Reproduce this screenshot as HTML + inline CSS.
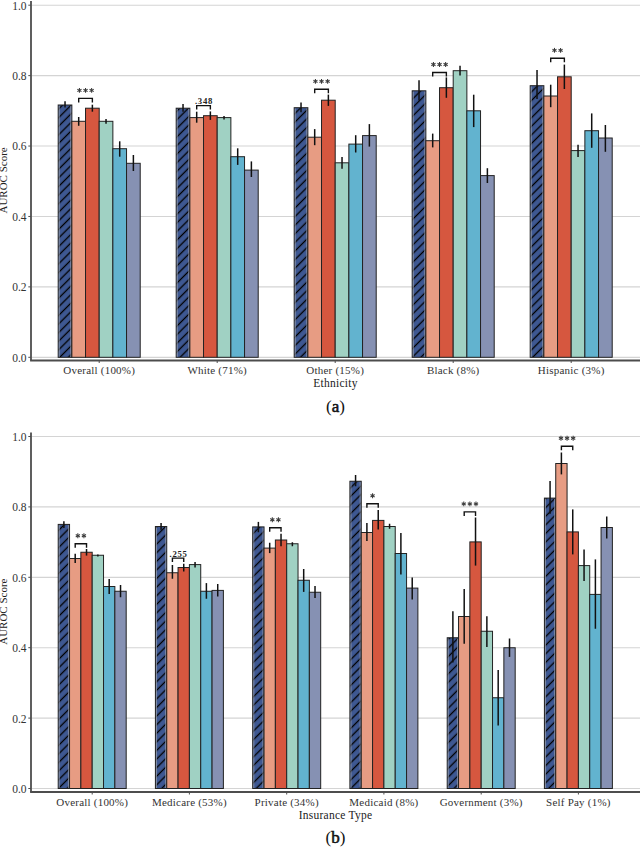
<!DOCTYPE html>
<html><head><meta charset="utf-8"><style>
html,body{margin:0;padding:0;background:#fff;}
body{width:640px;height:847px;overflow:hidden;}
svg{display:block;font-family:"Liberation Serif",serif;}
.tick{font-size:11.5px;fill:#333333;}
.xl{font-size:11px;fill:#333333;letter-spacing:0.22px;}
.yt{font-size:11px;fill:#222;}
.xt{font-size:11.5px;fill:#222;letter-spacing:0.25px;}
.tag{font-size:17px;fill:#111;}
.pv{font-size:8.7px;fill:#222;font-weight:bold;letter-spacing:0.75px;}
</style></head><body>
<svg width="640" height="847" viewBox="0 0 640 847">
<defs><pattern id="hatch0" patternUnits="userSpaceOnUse" width="20" height="6.08" patternTransform="rotate(-45)">
<rect width="20" height="6.08" fill="#3E5892"/><line x1="-1" y1="3.04" x2="21" y2="3.04" stroke="#000" stroke-width="1.3"/></pattern><pattern id="hatch1" patternUnits="userSpaceOnUse" width="20" height="6.08" patternTransform="rotate(-45)">
<rect width="20" height="6.08" fill="#3E5892"/><line x1="-1" y1="3.04" x2="21" y2="3.04" stroke="#000" stroke-width="1.3"/></pattern></defs>
<line x1="32" y1="357.30" x2="640" y2="357.30" stroke="#D4D4D4" stroke-width="1.15"/>
<text x="26.5" y="361.70" text-anchor="end" class="tick">0.0</text>
<line x1="28.3" y1="357.30" x2="31" y2="357.30" stroke="#4D4D4D" stroke-width="1"/>
<line x1="32" y1="286.88" x2="640" y2="286.88" stroke="#D4D4D4" stroke-width="1.15"/>
<text x="26.5" y="291.28" text-anchor="end" class="tick">0.2</text>
<line x1="28.3" y1="286.88" x2="31" y2="286.88" stroke="#4D4D4D" stroke-width="1"/>
<line x1="32" y1="216.46" x2="640" y2="216.46" stroke="#D4D4D4" stroke-width="1.15"/>
<text x="26.5" y="220.86" text-anchor="end" class="tick">0.4</text>
<line x1="28.3" y1="216.46" x2="31" y2="216.46" stroke="#4D4D4D" stroke-width="1"/>
<line x1="32" y1="146.04" x2="640" y2="146.04" stroke="#D4D4D4" stroke-width="1.15"/>
<text x="26.5" y="150.44" text-anchor="end" class="tick">0.6</text>
<line x1="28.3" y1="146.04" x2="31" y2="146.04" stroke="#4D4D4D" stroke-width="1"/>
<line x1="32" y1="75.62" x2="640" y2="75.62" stroke="#D4D4D4" stroke-width="1.15"/>
<text x="26.5" y="80.02" text-anchor="end" class="tick">0.8</text>
<line x1="28.3" y1="75.62" x2="31" y2="75.62" stroke="#4D4D4D" stroke-width="1"/>
<line x1="32" y1="5.20" x2="640" y2="5.20" stroke="#D4D4D4" stroke-width="1.15"/>
<text x="26.5" y="9.60" text-anchor="end" class="tick">1.0</text>
<line x1="28.3" y1="5.20" x2="31" y2="5.20" stroke="#4D4D4D" stroke-width="1"/>
<rect x="58.19" y="105.00" width="13.67" height="252.30" fill="url(#hatch0)" stroke="#222" stroke-width="1"/>
<line x1="59.29" y1="105.80" x2="59.29" y2="356.80" stroke="#9098A8" stroke-width="0.8"/>
<line x1="70.76" y1="105.80" x2="70.76" y2="356.80" stroke="#9098A8" stroke-width="0.8"/>
<rect x="71.86" y="121.30" width="13.67" height="236.00" fill="#E79C83" stroke="#222" stroke-width="1"/>
<rect x="85.53" y="108.20" width="13.67" height="249.10" fill="#D6573F" stroke="#222" stroke-width="1"/>
<rect x="99.20" y="121.30" width="13.67" height="236.00" fill="#A0D1C3" stroke="#222" stroke-width="1"/>
<rect x="112.87" y="148.70" width="13.67" height="208.60" fill="#62B3CF" stroke="#222" stroke-width="1"/>
<rect x="126.54" y="163.30" width="13.67" height="194.00" fill="#8691B3" stroke="#222" stroke-width="1"/>
<line x1="65.03" y1="101.20" x2="65.03" y2="107.50" stroke="#111" stroke-width="1.5"/>
<line x1="78.70" y1="117.00" x2="78.70" y2="125.80" stroke="#111" stroke-width="1.5"/>
<line x1="92.37" y1="104.70" x2="92.37" y2="111.70" stroke="#111" stroke-width="1.5"/>
<line x1="106.03" y1="119.00" x2="106.03" y2="123.70" stroke="#111" stroke-width="1.5"/>
<line x1="119.71" y1="141.30" x2="119.71" y2="156.70" stroke="#111" stroke-width="1.5"/>
<line x1="133.38" y1="155.00" x2="133.38" y2="171.00" stroke="#111" stroke-width="1.5"/>
<path d="M78.70,102.40 V98.40 H92.37 V102.40" fill="none" stroke="#111" stroke-width="1.4"/>
<g stroke="#3a3a3a" stroke-width="1.05">
<line x1="79.43" y1="88.00" x2="79.43" y2="92.80"/><line x1="81.51" y1="89.20" x2="77.35" y2="91.60"/><line x1="81.51" y1="91.60" x2="77.35" y2="89.20"/>
<line x1="85.53" y1="88.00" x2="85.53" y2="92.80"/><line x1="87.61" y1="89.20" x2="83.45" y2="91.60"/><line x1="87.61" y1="91.60" x2="83.45" y2="89.20"/>
<line x1="91.63" y1="88.00" x2="91.63" y2="92.80"/><line x1="93.71" y1="89.20" x2="89.55" y2="91.60"/><line x1="93.71" y1="91.60" x2="89.55" y2="89.20"/>
</g>
<line x1="99.20" y1="360.50" x2="99.20" y2="363.00" stroke="#4D4D4D" stroke-width="1"/>
<text x="99.20" y="374.00" text-anchor="middle" class="xl">Overall (100%)</text>
<rect x="176.19" y="108.20" width="13.67" height="249.10" fill="url(#hatch0)" stroke="#222" stroke-width="1"/>
<line x1="177.29" y1="109.00" x2="177.29" y2="356.80" stroke="#9098A8" stroke-width="0.8"/>
<line x1="188.76" y1="109.00" x2="188.76" y2="356.80" stroke="#9098A8" stroke-width="0.8"/>
<rect x="189.86" y="117.60" width="13.67" height="239.70" fill="#E79C83" stroke="#222" stroke-width="1"/>
<rect x="203.53" y="115.70" width="13.67" height="241.60" fill="#D6573F" stroke="#222" stroke-width="1"/>
<rect x="217.20" y="117.60" width="13.67" height="239.70" fill="#A0D1C3" stroke="#222" stroke-width="1"/>
<rect x="230.87" y="156.70" width="13.67" height="200.60" fill="#62B3CF" stroke="#222" stroke-width="1"/>
<rect x="244.54" y="170.10" width="13.67" height="187.20" fill="#8691B3" stroke="#222" stroke-width="1"/>
<line x1="183.03" y1="104.00" x2="183.03" y2="111.70" stroke="#111" stroke-width="1.5"/>
<line x1="196.69" y1="111.70" x2="196.69" y2="122.70" stroke="#111" stroke-width="1.5"/>
<line x1="210.37" y1="111.40" x2="210.37" y2="119.90" stroke="#111" stroke-width="1.5"/>
<line x1="224.03" y1="116.00" x2="224.03" y2="119.50" stroke="#111" stroke-width="1.5"/>
<line x1="237.70" y1="148.30" x2="237.70" y2="164.90" stroke="#111" stroke-width="1.5"/>
<line x1="251.38" y1="161.40" x2="251.38" y2="177.00" stroke="#111" stroke-width="1.5"/>
<path d="M196.69,109.60 V105.60 H210.37 V109.60" fill="none" stroke="#111" stroke-width="1.4"/>
<text x="204.03" y="104.10" text-anchor="middle" class="pv">.348</text>
<line x1="217.20" y1="360.50" x2="217.20" y2="363.00" stroke="#4D4D4D" stroke-width="1"/>
<text x="217.20" y="374.00" text-anchor="middle" class="xl">White (71%)</text>
<rect x="294.19" y="107.70" width="13.67" height="249.60" fill="url(#hatch0)" stroke="#222" stroke-width="1"/>
<line x1="295.29" y1="108.50" x2="295.29" y2="356.80" stroke="#9098A8" stroke-width="0.8"/>
<line x1="306.76" y1="108.50" x2="306.76" y2="356.80" stroke="#9098A8" stroke-width="0.8"/>
<rect x="307.86" y="137.20" width="13.67" height="220.10" fill="#E79C83" stroke="#222" stroke-width="1"/>
<rect x="321.53" y="100.20" width="13.67" height="257.10" fill="#D6573F" stroke="#222" stroke-width="1"/>
<rect x="335.20" y="162.80" width="13.67" height="194.50" fill="#A0D1C3" stroke="#222" stroke-width="1"/>
<rect x="348.87" y="144.10" width="13.67" height="213.20" fill="#62B3CF" stroke="#222" stroke-width="1"/>
<rect x="362.54" y="135.60" width="13.67" height="221.70" fill="#8691B3" stroke="#222" stroke-width="1"/>
<line x1="301.02" y1="102.60" x2="301.02" y2="112.20" stroke="#111" stroke-width="1.5"/>
<line x1="314.69" y1="129.10" x2="314.69" y2="145.20" stroke="#111" stroke-width="1.5"/>
<line x1="328.37" y1="94.60" x2="328.37" y2="105.90" stroke="#111" stroke-width="1.5"/>
<line x1="342.03" y1="157.00" x2="342.03" y2="168.70" stroke="#111" stroke-width="1.5"/>
<line x1="355.70" y1="135.20" x2="355.70" y2="152.50" stroke="#111" stroke-width="1.5"/>
<line x1="369.38" y1="124.10" x2="369.38" y2="146.60" stroke="#111" stroke-width="1.5"/>
<path d="M314.69,93.30 V89.30 H328.37 V93.30" fill="none" stroke="#111" stroke-width="1.4"/>
<g stroke="#3a3a3a" stroke-width="1.05">
<line x1="315.43" y1="78.90" x2="315.43" y2="83.70"/><line x1="317.51" y1="80.10" x2="313.35" y2="82.50"/><line x1="317.51" y1="82.50" x2="313.35" y2="80.10"/>
<line x1="321.53" y1="78.90" x2="321.53" y2="83.70"/><line x1="323.61" y1="80.10" x2="319.45" y2="82.50"/><line x1="323.61" y1="82.50" x2="319.45" y2="80.10"/>
<line x1="327.63" y1="78.90" x2="327.63" y2="83.70"/><line x1="329.71" y1="80.10" x2="325.55" y2="82.50"/><line x1="329.71" y1="82.50" x2="325.55" y2="80.10"/>
</g>
<line x1="335.20" y1="360.50" x2="335.20" y2="363.00" stroke="#4D4D4D" stroke-width="1"/>
<text x="335.20" y="374.00" text-anchor="middle" class="xl">Other (15%)</text>
<rect x="412.19" y="90.80" width="13.67" height="266.50" fill="url(#hatch0)" stroke="#222" stroke-width="1"/>
<line x1="413.29" y1="91.60" x2="413.29" y2="356.80" stroke="#9098A8" stroke-width="0.8"/>
<line x1="424.76" y1="91.60" x2="424.76" y2="356.80" stroke="#9098A8" stroke-width="0.8"/>
<rect x="425.86" y="140.70" width="13.67" height="216.60" fill="#E79C83" stroke="#222" stroke-width="1"/>
<rect x="439.53" y="87.70" width="13.67" height="269.60" fill="#D6573F" stroke="#222" stroke-width="1"/>
<rect x="453.20" y="70.70" width="13.67" height="286.60" fill="#A0D1C3" stroke="#222" stroke-width="1"/>
<rect x="466.87" y="110.80" width="13.67" height="246.50" fill="#62B3CF" stroke="#222" stroke-width="1"/>
<rect x="480.54" y="175.60" width="13.67" height="181.70" fill="#8691B3" stroke="#222" stroke-width="1"/>
<line x1="419.02" y1="80.20" x2="419.02" y2="100.60" stroke="#111" stroke-width="1.5"/>
<line x1="432.69" y1="133.60" x2="432.69" y2="147.40" stroke="#111" stroke-width="1.5"/>
<line x1="446.37" y1="77.40" x2="446.37" y2="97.80" stroke="#111" stroke-width="1.5"/>
<line x1="460.03" y1="65.80" x2="460.03" y2="75.60" stroke="#111" stroke-width="1.5"/>
<line x1="473.70" y1="94.70" x2="473.70" y2="127.10" stroke="#111" stroke-width="1.5"/>
<line x1="487.38" y1="168.20" x2="487.38" y2="183.00" stroke="#111" stroke-width="1.5"/>
<path d="M432.69,76.50 V72.50 H446.37 V76.50" fill="none" stroke="#111" stroke-width="1.4"/>
<g stroke="#3a3a3a" stroke-width="1.05">
<line x1="433.43" y1="62.10" x2="433.43" y2="66.90"/><line x1="435.51" y1="63.30" x2="431.35" y2="65.70"/><line x1="435.51" y1="65.70" x2="431.35" y2="63.30"/>
<line x1="439.53" y1="62.10" x2="439.53" y2="66.90"/><line x1="441.61" y1="63.30" x2="437.45" y2="65.70"/><line x1="441.61" y1="65.70" x2="437.45" y2="63.30"/>
<line x1="445.63" y1="62.10" x2="445.63" y2="66.90"/><line x1="447.71" y1="63.30" x2="443.55" y2="65.70"/><line x1="447.71" y1="65.70" x2="443.55" y2="63.30"/>
</g>
<line x1="453.20" y1="360.50" x2="453.20" y2="363.00" stroke="#4D4D4D" stroke-width="1"/>
<text x="453.20" y="374.00" text-anchor="middle" class="xl">Black (8%)</text>
<rect x="530.19" y="85.70" width="13.67" height="271.60" fill="url(#hatch0)" stroke="#222" stroke-width="1"/>
<line x1="531.29" y1="86.50" x2="531.29" y2="356.80" stroke="#9098A8" stroke-width="0.8"/>
<line x1="542.76" y1="86.50" x2="542.76" y2="356.80" stroke="#9098A8" stroke-width="0.8"/>
<rect x="543.86" y="96.00" width="13.67" height="261.30" fill="#E79C83" stroke="#222" stroke-width="1"/>
<rect x="557.53" y="76.80" width="13.67" height="280.50" fill="#D6573F" stroke="#222" stroke-width="1"/>
<rect x="571.20" y="150.60" width="13.67" height="206.70" fill="#A0D1C3" stroke="#222" stroke-width="1"/>
<rect x="584.87" y="130.70" width="13.67" height="226.60" fill="#62B3CF" stroke="#222" stroke-width="1"/>
<rect x="598.54" y="138.00" width="13.67" height="219.30" fill="#8691B3" stroke="#222" stroke-width="1"/>
<line x1="537.03" y1="70.00" x2="537.03" y2="99.10" stroke="#111" stroke-width="1.5"/>
<line x1="550.70" y1="84.70" x2="550.70" y2="107.20" stroke="#111" stroke-width="1.5"/>
<line x1="564.37" y1="64.60" x2="564.37" y2="89.00" stroke="#111" stroke-width="1.5"/>
<line x1="578.04" y1="144.70" x2="578.04" y2="157.00" stroke="#111" stroke-width="1.5"/>
<line x1="591.71" y1="113.40" x2="591.71" y2="147.80" stroke="#111" stroke-width="1.5"/>
<line x1="605.38" y1="125.00" x2="605.38" y2="151.80" stroke="#111" stroke-width="1.5"/>
<path d="M550.70,62.30 V58.30 H564.37 V62.30" fill="none" stroke="#111" stroke-width="1.4"/>
<g stroke="#3a3a3a" stroke-width="1.05">
<line x1="554.48" y1="47.90" x2="554.48" y2="52.70"/><line x1="556.56" y1="49.10" x2="552.40" y2="51.50"/><line x1="556.56" y1="51.50" x2="552.40" y2="49.10"/>
<line x1="560.58" y1="47.90" x2="560.58" y2="52.70"/><line x1="562.66" y1="49.10" x2="558.50" y2="51.50"/><line x1="562.66" y1="51.50" x2="558.50" y2="49.10"/>
</g>
<line x1="571.20" y1="360.50" x2="571.20" y2="363.00" stroke="#4D4D4D" stroke-width="1"/>
<text x="571.20" y="374.00" text-anchor="middle" class="xl">Hispanic (3%)</text>
<line x1="31" y1="1.00" x2="31" y2="360.50" stroke="#4D4D4D" stroke-width="1.8"/>
<line x1="30.1" y1="360.50" x2="640" y2="360.50" stroke="#4D4D4D" stroke-width="1.8"/>
<text transform="translate(7.4,180.40) rotate(-90)" text-anchor="middle" class="yt">AUROC Score</text>
<text x="335.5" y="387.20" text-anchor="middle" class="xt">Ethnicity</text>
<text x="335.5" y="411.50" text-anchor="middle" class="tag">(<tspan style='stroke:#111;stroke-width:0.55px'>a</tspan>)</text>
<line x1="32" y1="788.50" x2="640" y2="788.50" stroke="#D4D4D4" stroke-width="1.15"/>
<text x="26.5" y="792.90" text-anchor="end" class="tick">0.0</text>
<line x1="28.3" y1="788.50" x2="31" y2="788.50" stroke="#4D4D4D" stroke-width="1"/>
<line x1="32" y1="718.10" x2="640" y2="718.10" stroke="#D4D4D4" stroke-width="1.15"/>
<text x="26.5" y="722.50" text-anchor="end" class="tick">0.2</text>
<line x1="28.3" y1="718.10" x2="31" y2="718.10" stroke="#4D4D4D" stroke-width="1"/>
<line x1="32" y1="647.70" x2="640" y2="647.70" stroke="#D4D4D4" stroke-width="1.15"/>
<text x="26.5" y="652.10" text-anchor="end" class="tick">0.4</text>
<line x1="28.3" y1="647.70" x2="31" y2="647.70" stroke="#4D4D4D" stroke-width="1"/>
<line x1="32" y1="577.30" x2="640" y2="577.30" stroke="#D4D4D4" stroke-width="1.15"/>
<text x="26.5" y="581.70" text-anchor="end" class="tick">0.6</text>
<line x1="28.3" y1="577.30" x2="31" y2="577.30" stroke="#4D4D4D" stroke-width="1"/>
<line x1="32" y1="506.90" x2="640" y2="506.90" stroke="#D4D4D4" stroke-width="1.15"/>
<text x="26.5" y="511.30" text-anchor="end" class="tick">0.8</text>
<line x1="28.3" y1="506.90" x2="31" y2="506.90" stroke="#4D4D4D" stroke-width="1"/>
<line x1="32" y1="436.50" x2="640" y2="436.50" stroke="#D4D4D4" stroke-width="1.15"/>
<text x="26.5" y="440.90" text-anchor="end" class="tick">1.0</text>
<line x1="28.3" y1="436.50" x2="31" y2="436.50" stroke="#4D4D4D" stroke-width="1"/>
<rect x="58.21" y="524.40" width="11.33" height="264.10" fill="url(#hatch1)" stroke="#222" stroke-width="1"/>
<line x1="59.31" y1="525.20" x2="59.31" y2="788.00" stroke="#9098A8" stroke-width="0.8"/>
<line x1="68.44" y1="525.20" x2="68.44" y2="788.00" stroke="#9098A8" stroke-width="0.8"/>
<rect x="69.54" y="558.50" width="11.33" height="230.00" fill="#E79C83" stroke="#222" stroke-width="1"/>
<rect x="80.87" y="552.25" width="11.33" height="236.25" fill="#D6573F" stroke="#222" stroke-width="1"/>
<rect x="92.20" y="555.25" width="11.33" height="233.25" fill="#A0D1C3" stroke="#222" stroke-width="1"/>
<rect x="103.53" y="586.50" width="11.33" height="202.00" fill="#62B3CF" stroke="#222" stroke-width="1"/>
<rect x="114.86" y="591.25" width="11.33" height="197.25" fill="#8691B3" stroke="#222" stroke-width="1"/>
<line x1="63.88" y1="521.25" x2="63.88" y2="528.10" stroke="#111" stroke-width="1.5"/>
<line x1="75.20" y1="553.75" x2="75.20" y2="563.10" stroke="#111" stroke-width="1.5"/>
<line x1="86.53" y1="549.00" x2="86.53" y2="555.60" stroke="#111" stroke-width="1.5"/>
<line x1="97.87" y1="554.40" x2="97.87" y2="556.50" stroke="#111" stroke-width="1.5"/>
<line x1="109.19" y1="579.00" x2="109.19" y2="594.00" stroke="#111" stroke-width="1.5"/>
<line x1="120.53" y1="585.00" x2="120.53" y2="597.25" stroke="#111" stroke-width="1.5"/>
<path d="M75.20,547.75 V543.75 H86.53 V547.75" fill="none" stroke="#111" stroke-width="1.4"/>
<g stroke="#3a3a3a" stroke-width="1.05">
<line x1="77.82" y1="533.35" x2="77.82" y2="538.15"/><line x1="79.90" y1="534.55" x2="75.74" y2="536.95"/><line x1="79.90" y1="536.95" x2="75.74" y2="534.55"/>
<line x1="83.92" y1="533.35" x2="83.92" y2="538.15"/><line x1="86.00" y1="534.55" x2="81.84" y2="536.95"/><line x1="86.00" y1="536.95" x2="81.84" y2="534.55"/>
</g>
<line x1="92.20" y1="792.00" x2="92.20" y2="794.50" stroke="#4D4D4D" stroke-width="1"/>
<text x="92.20" y="805.50" text-anchor="middle" class="xl">Overall (100%)</text>
<rect x="155.41" y="526.50" width="11.33" height="262.00" fill="url(#hatch1)" stroke="#222" stroke-width="1"/>
<line x1="156.51" y1="527.30" x2="156.51" y2="788.00" stroke="#9098A8" stroke-width="0.8"/>
<line x1="165.64" y1="527.30" x2="165.64" y2="788.00" stroke="#9098A8" stroke-width="0.8"/>
<rect x="166.74" y="572.75" width="11.33" height="215.75" fill="#E79C83" stroke="#222" stroke-width="1"/>
<rect x="178.07" y="567.50" width="11.33" height="221.00" fill="#D6573F" stroke="#222" stroke-width="1"/>
<rect x="189.40" y="564.60" width="11.33" height="223.90" fill="#A0D1C3" stroke="#222" stroke-width="1"/>
<rect x="200.73" y="591.25" width="11.33" height="197.25" fill="#62B3CF" stroke="#222" stroke-width="1"/>
<rect x="212.06" y="590.40" width="11.33" height="198.10" fill="#8691B3" stroke="#222" stroke-width="1"/>
<line x1="161.07" y1="523.10" x2="161.07" y2="529.75" stroke="#111" stroke-width="1.5"/>
<line x1="172.41" y1="565.00" x2="172.41" y2="578.75" stroke="#111" stroke-width="1.5"/>
<line x1="183.73" y1="563.75" x2="183.73" y2="571.50" stroke="#111" stroke-width="1.5"/>
<line x1="195.06" y1="561.90" x2="195.06" y2="567.50" stroke="#111" stroke-width="1.5"/>
<line x1="206.39" y1="583.10" x2="206.39" y2="598.75" stroke="#111" stroke-width="1.5"/>
<line x1="217.72" y1="584.00" x2="217.72" y2="596.50" stroke="#111" stroke-width="1.5"/>
<path d="M172.41,562.10 V558.10 H183.73 V562.10" fill="none" stroke="#111" stroke-width="1.4"/>
<text x="178.57" y="556.60" text-anchor="middle" class="pv">.255</text>
<line x1="189.40" y1="792.00" x2="189.40" y2="794.50" stroke="#4D4D4D" stroke-width="1"/>
<text x="189.40" y="805.50" text-anchor="middle" class="xl">Medicare (53%)</text>
<rect x="252.71" y="526.90" width="11.33" height="261.60" fill="url(#hatch1)" stroke="#222" stroke-width="1"/>
<line x1="253.81" y1="527.70" x2="253.81" y2="788.00" stroke="#9098A8" stroke-width="0.8"/>
<line x1="262.94" y1="527.70" x2="262.94" y2="788.00" stroke="#9098A8" stroke-width="0.8"/>
<rect x="264.04" y="548.10" width="11.33" height="240.40" fill="#E79C83" stroke="#222" stroke-width="1"/>
<rect x="275.37" y="540.00" width="11.33" height="248.50" fill="#D6573F" stroke="#222" stroke-width="1"/>
<rect x="286.70" y="543.75" width="11.33" height="244.75" fill="#A0D1C3" stroke="#222" stroke-width="1"/>
<rect x="298.03" y="580.25" width="11.33" height="208.25" fill="#62B3CF" stroke="#222" stroke-width="1"/>
<rect x="309.36" y="592.25" width="11.33" height="196.25" fill="#8691B3" stroke="#222" stroke-width="1"/>
<line x1="258.38" y1="521.90" x2="258.38" y2="532.25" stroke="#111" stroke-width="1.5"/>
<line x1="269.70" y1="542.75" x2="269.70" y2="553.10" stroke="#111" stroke-width="1.5"/>
<line x1="281.03" y1="533.75" x2="281.03" y2="546.25" stroke="#111" stroke-width="1.5"/>
<line x1="292.37" y1="542.25" x2="292.37" y2="546.25" stroke="#111" stroke-width="1.5"/>
<line x1="303.69" y1="569.00" x2="303.69" y2="591.90" stroke="#111" stroke-width="1.5"/>
<line x1="315.02" y1="586.00" x2="315.02" y2="598.10" stroke="#111" stroke-width="1.5"/>
<path d="M269.70,531.75 V527.75 H281.03 V531.75" fill="none" stroke="#111" stroke-width="1.4"/>
<g stroke="#3a3a3a" stroke-width="1.05">
<line x1="272.32" y1="517.35" x2="272.32" y2="522.15"/><line x1="274.40" y1="518.55" x2="270.24" y2="520.95"/><line x1="274.40" y1="520.95" x2="270.24" y2="518.55"/>
<line x1="278.42" y1="517.35" x2="278.42" y2="522.15"/><line x1="280.50" y1="518.55" x2="276.34" y2="520.95"/><line x1="280.50" y1="520.95" x2="276.34" y2="518.55"/>
</g>
<line x1="286.70" y1="792.00" x2="286.70" y2="794.50" stroke="#4D4D4D" stroke-width="1"/>
<text x="286.70" y="805.50" text-anchor="middle" class="xl">Private (34%)</text>
<rect x="349.91" y="481.25" width="11.33" height="307.25" fill="url(#hatch1)" stroke="#222" stroke-width="1"/>
<line x1="351.01" y1="482.05" x2="351.01" y2="788.00" stroke="#9098A8" stroke-width="0.8"/>
<line x1="360.14" y1="482.05" x2="360.14" y2="788.00" stroke="#9098A8" stroke-width="0.8"/>
<rect x="361.24" y="532.50" width="11.33" height="256.00" fill="#E79C83" stroke="#222" stroke-width="1"/>
<rect x="372.57" y="520.40" width="11.33" height="268.10" fill="#D6573F" stroke="#222" stroke-width="1"/>
<rect x="383.90" y="526.50" width="11.33" height="262.00" fill="#A0D1C3" stroke="#222" stroke-width="1"/>
<rect x="395.23" y="553.50" width="11.33" height="235.00" fill="#62B3CF" stroke="#222" stroke-width="1"/>
<rect x="406.56" y="588.10" width="11.33" height="200.40" fill="#8691B3" stroke="#222" stroke-width="1"/>
<line x1="355.57" y1="475.00" x2="355.57" y2="486.25" stroke="#111" stroke-width="1.5"/>
<line x1="366.90" y1="523.10" x2="366.90" y2="541.00" stroke="#111" stroke-width="1.5"/>
<line x1="378.23" y1="510.00" x2="378.23" y2="529.40" stroke="#111" stroke-width="1.5"/>
<line x1="389.56" y1="523.75" x2="389.56" y2="528.75" stroke="#111" stroke-width="1.5"/>
<line x1="400.89" y1="533.10" x2="400.89" y2="574.40" stroke="#111" stroke-width="1.5"/>
<line x1="412.22" y1="577.50" x2="412.22" y2="599.40" stroke="#111" stroke-width="1.5"/>
<path d="M366.90,507.75 V503.75 H378.23 V507.75" fill="none" stroke="#111" stroke-width="1.4"/>
<g stroke="#3a3a3a" stroke-width="1.05">
<line x1="372.57" y1="493.35" x2="372.57" y2="498.15"/><line x1="374.65" y1="494.55" x2="370.49" y2="496.95"/><line x1="374.65" y1="496.95" x2="370.49" y2="494.55"/>
</g>
<line x1="383.90" y1="792.00" x2="383.90" y2="794.50" stroke="#4D4D4D" stroke-width="1"/>
<text x="383.90" y="805.50" text-anchor="middle" class="xl">Medicaid (8%)</text>
<rect x="447.21" y="637.75" width="11.33" height="150.75" fill="url(#hatch1)" stroke="#222" stroke-width="1"/>
<line x1="448.31" y1="638.55" x2="448.31" y2="788.00" stroke="#9098A8" stroke-width="0.8"/>
<line x1="457.44" y1="638.55" x2="457.44" y2="788.00" stroke="#9098A8" stroke-width="0.8"/>
<rect x="458.54" y="616.50" width="11.33" height="172.00" fill="#E79C83" stroke="#222" stroke-width="1"/>
<rect x="469.87" y="541.90" width="11.33" height="246.60" fill="#D6573F" stroke="#222" stroke-width="1"/>
<rect x="481.20" y="631.25" width="11.33" height="157.25" fill="#A0D1C3" stroke="#222" stroke-width="1"/>
<rect x="492.53" y="697.75" width="11.33" height="90.75" fill="#62B3CF" stroke="#222" stroke-width="1"/>
<rect x="503.86" y="647.75" width="11.33" height="140.75" fill="#8691B3" stroke="#222" stroke-width="1"/>
<line x1="452.88" y1="611.25" x2="452.88" y2="662.50" stroke="#111" stroke-width="1.5"/>
<line x1="464.20" y1="589.00" x2="464.20" y2="643.75" stroke="#111" stroke-width="1.5"/>
<line x1="475.53" y1="517.50" x2="475.53" y2="565.60" stroke="#111" stroke-width="1.5"/>
<line x1="486.87" y1="616.25" x2="486.87" y2="646.90" stroke="#111" stroke-width="1.5"/>
<line x1="498.19" y1="670.00" x2="498.19" y2="725.60" stroke="#111" stroke-width="1.5"/>
<line x1="509.52" y1="638.50" x2="509.52" y2="656.90" stroke="#111" stroke-width="1.5"/>
<path d="M464.20,515.90 V511.90 H475.53 V515.90" fill="none" stroke="#111" stroke-width="1.4"/>
<g stroke="#3a3a3a" stroke-width="1.05">
<line x1="463.77" y1="501.50" x2="463.77" y2="506.30"/><line x1="465.85" y1="502.70" x2="461.69" y2="505.10"/><line x1="465.85" y1="505.10" x2="461.69" y2="502.70"/>
<line x1="469.87" y1="501.50" x2="469.87" y2="506.30"/><line x1="471.95" y1="502.70" x2="467.79" y2="505.10"/><line x1="471.95" y1="505.10" x2="467.79" y2="502.70"/>
<line x1="475.97" y1="501.50" x2="475.97" y2="506.30"/><line x1="478.05" y1="502.70" x2="473.89" y2="505.10"/><line x1="478.05" y1="505.10" x2="473.89" y2="502.70"/>
</g>
<line x1="481.20" y1="792.00" x2="481.20" y2="794.50" stroke="#4D4D4D" stroke-width="1"/>
<text x="481.20" y="805.50" text-anchor="middle" class="xl">Government (3%)</text>
<rect x="544.41" y="498.10" width="11.33" height="290.40" fill="url(#hatch1)" stroke="#222" stroke-width="1"/>
<line x1="545.51" y1="498.90" x2="545.51" y2="788.00" stroke="#9098A8" stroke-width="0.8"/>
<line x1="554.64" y1="498.90" x2="554.64" y2="788.00" stroke="#9098A8" stroke-width="0.8"/>
<rect x="555.74" y="463.50" width="11.33" height="325.00" fill="#E79C83" stroke="#222" stroke-width="1"/>
<rect x="567.07" y="531.90" width="11.33" height="256.60" fill="#D6573F" stroke="#222" stroke-width="1"/>
<rect x="578.40" y="565.60" width="11.33" height="222.90" fill="#A0D1C3" stroke="#222" stroke-width="1"/>
<rect x="589.73" y="594.40" width="11.33" height="194.10" fill="#62B3CF" stroke="#222" stroke-width="1"/>
<rect x="601.06" y="527.50" width="11.33" height="261.00" fill="#8691B3" stroke="#222" stroke-width="1"/>
<line x1="550.07" y1="481.00" x2="550.07" y2="513.75" stroke="#111" stroke-width="1.5"/>
<line x1="561.40" y1="452.50" x2="561.40" y2="474.40" stroke="#111" stroke-width="1.5"/>
<line x1="572.74" y1="509.40" x2="572.74" y2="554.40" stroke="#111" stroke-width="1.5"/>
<line x1="584.06" y1="549.40" x2="584.06" y2="581.00" stroke="#111" stroke-width="1.5"/>
<line x1="595.39" y1="559.40" x2="595.39" y2="628.75" stroke="#111" stroke-width="1.5"/>
<line x1="606.72" y1="516.50" x2="606.72" y2="538.50" stroke="#111" stroke-width="1.5"/>
<path d="M561.40,450.25 V446.25 H572.74 V450.25" fill="none" stroke="#111" stroke-width="1.4"/>
<g stroke="#3a3a3a" stroke-width="1.05">
<line x1="560.97" y1="435.85" x2="560.97" y2="440.65"/><line x1="563.05" y1="437.05" x2="558.89" y2="439.45"/><line x1="563.05" y1="439.45" x2="558.89" y2="437.05"/>
<line x1="567.07" y1="435.85" x2="567.07" y2="440.65"/><line x1="569.15" y1="437.05" x2="564.99" y2="439.45"/><line x1="569.15" y1="439.45" x2="564.99" y2="437.05"/>
<line x1="573.17" y1="435.85" x2="573.17" y2="440.65"/><line x1="575.25" y1="437.05" x2="571.09" y2="439.45"/><line x1="575.25" y1="439.45" x2="571.09" y2="437.05"/>
</g>
<line x1="578.40" y1="792.00" x2="578.40" y2="794.50" stroke="#4D4D4D" stroke-width="1"/>
<text x="578.40" y="805.50" text-anchor="middle" class="xl">Self Pay (1%)</text>
<line x1="31" y1="432.50" x2="31" y2="792.00" stroke="#4D4D4D" stroke-width="1.8"/>
<line x1="30.1" y1="792.00" x2="640" y2="792.00" stroke="#4D4D4D" stroke-width="1.8"/>
<text transform="translate(7.4,611.65) rotate(-90)" text-anchor="middle" class="yt">AUROC Score</text>
<text x="335.5" y="818.70" text-anchor="middle" class="xt">Insurance Type</text>
<text x="335.5" y="843.00" text-anchor="middle" class="tag">(<tspan style='stroke:#111;stroke-width:0.55px'>b</tspan>)</text>
</svg></body></html>
